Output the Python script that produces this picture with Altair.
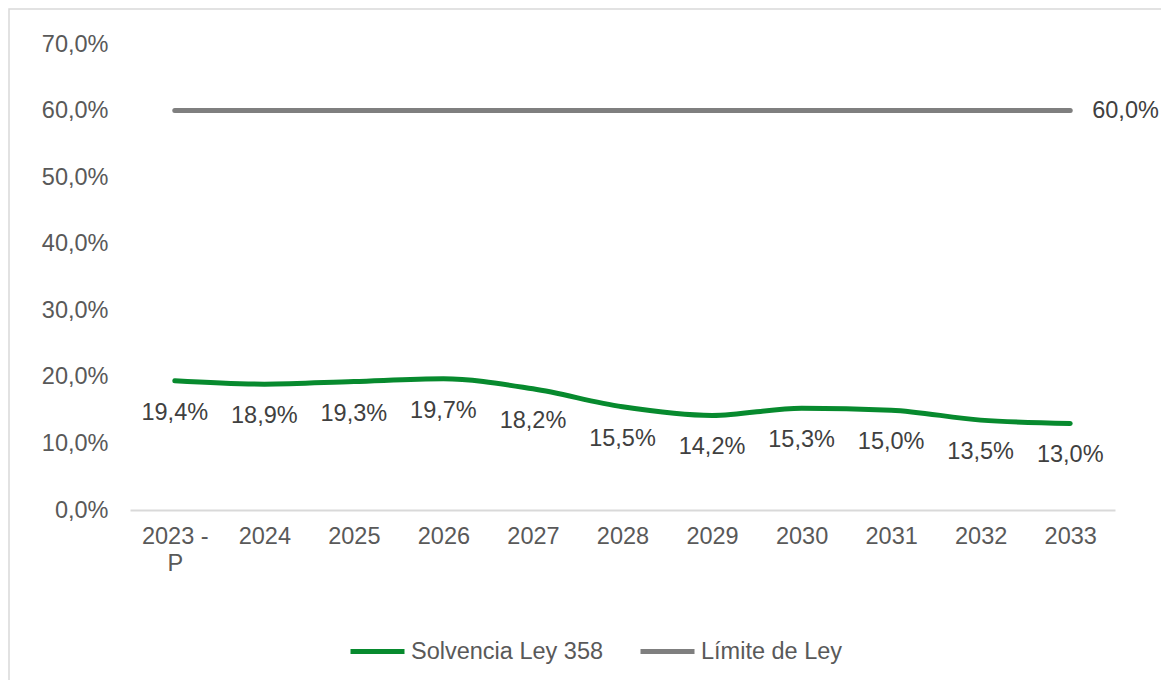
import altair as alt
import pandas as pd

years = ["2023 - P", "2024", "2025", "2026", "2027", "2028", "2029", "2030", "2031", "2032", "2033"]
solvencia = [19.4, 18.9, 19.3, 19.7, 18.2, 15.5, 14.2, 15.3, 15.0, 13.5, 13.0]
limite = [60.0, 60.0, 60.0, 60.0, 60.0, 60.0, 60.0, 60.0, 60.0, 60.0, 60.0]
series_names = ["Solvencia Ley 358", "Límite de Ley"]
colors = ["#078A2E", "#7F7F7F"]
y_ticks = [0, 10, 20, 30, 40, 50, 60, 70]

rows = []
for i, y in enumerate(years):
    rows.append({"year": y, "value": solvencia[i], "series": series_names[0], "idx": i})
for i, y in enumerate(years):
    rows.append({"year": y, "value": limite[i], "series": series_names[1], "idx": i})
df = pd.DataFrame(rows)

FONT = "Liberation Sans"
FS = 23.5
label_expr = "replace(format(datum.value, '.1f'), '.', ',') + '%'"

x_enc = alt.X(
    "year:N", sort=years, title=None,
    scale=alt.Scale(type="point", padding=0.5),
    axis=alt.Axis(
        labelAngle=0, ticks=False, grid=False, domainColor="#D9D9D9", domainWidth=2,
        labelFontSize=FS, labelColor="#595959", labelFont=FONT, labelPadding=14,
        labelLineHeight=27,
        labelExpr="datum.value == '2023 - P' ? ['2023 -', 'P'] : datum.value",
    ),
)
y_enc = alt.Y(
    "value:Q", title=None,
    scale=alt.Scale(domain=[0, 70], nice=False, zero=True),
    axis=alt.Axis(
        values=y_ticks, domain=False, ticks=False, grid=False,
        labelFontSize=FS, labelColor="#595959", labelFont=FONT, labelPadding=22,
        labelExpr=label_expr,
    ),
)
color_enc = alt.Color(
    "series:N", title=None,
    scale=alt.Scale(domain=series_names, range=colors),
    legend=alt.Legend(
        orient="none", legendX=218, legendY=578, direction="horizontal",
        symbolType="stroke", symbolSize=2916, symbolStrokeWidth=5,
        labelFontSize=FS, labelColor="#595959", labelFont=FONT, labelLimit=0,
        labelOffset=4, columnPadding=26, padding=0,
    ),
)

base = alt.Chart(df)

lines = base.mark_line(strokeWidth=5, strokeCap="round", strokeJoin="round", interpolate="monotone").encode(
    x=x_enc, y=y_enc, color=color_enc, detail="series:N"
)

green_labels = base.transform_filter(
    alt.datum.series == series_names[0]
).transform_calculate(
    label=label_expr
).mark_text(dy=32, fontSize=FS, font=FONT, color="#404040", baseline="middle", align="center").encode(
    x=alt.X("year:N", sort=years), y="value:Q", text="label:N"
)

gray_label = base.transform_filter(
    (alt.datum.series == series_names[1]) & (alt.datum.idx == len(years) - 1)
).transform_calculate(
    label=label_expr
).mark_text(dx=22, fontSize=FS, font=FONT, color="#404040", baseline="middle", align="left").encode(
    x=alt.X("year:N", sort=years), y="value:Q", text="label:N"
)

border = alt.Chart(pd.DataFrame({"b": [0]})).mark_rect(
    fill=None, stroke="#D9D9D9", strokeWidth=1.5
).encode(
    x=alt.value(-121), x2=alt.value(1200), y=alt.value(-35), y2=alt.value(700)
)

chart = alt.layer(border, lines, green_labels, gray_label).properties(
    width=985, height=466,
    autosize=alt.AutoSizeParams(type="none"),
    padding={"left": 122, "top": 36, "right": 46, "bottom": 170},
).configure(background="white").configure_view(stroke=None, strokeWidth=0)

chart.save("out.html", embed_options={"renderer": "svg", "actions": False})
